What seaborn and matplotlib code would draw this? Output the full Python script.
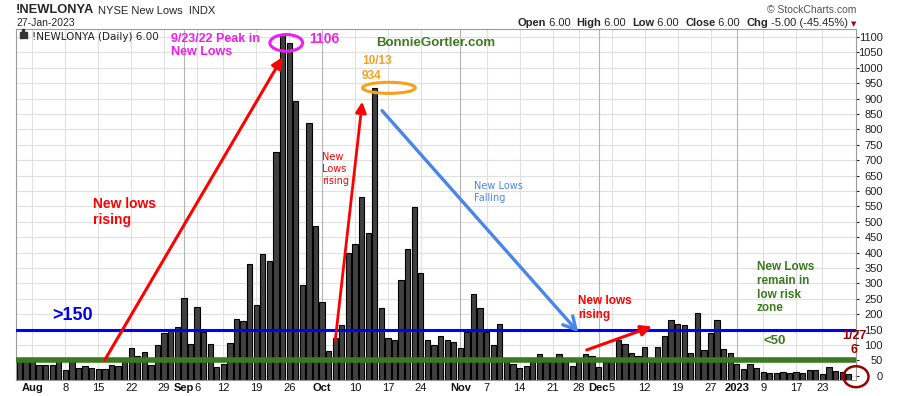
"""NYSE new lows (!NEWLONYA) daily bars, Jul 2022 - Jan 2023, with annotations."""

import matplotlib

matplotlib.use("Agg")
import matplotlib.pyplot as plt
import pandas as pd
import seaborn as sns
from matplotlib.patches import Ellipse, Rectangle

W, H = 900, 396

START = "2022-07-28"
END = "2023-01-27"
HOLIDAYS = ["2022-09-05", "2022-11-24", "2022-12-26", "2023-01-02", "2023-01-16"]

# daily NYSE new lows
NEW_LOWS = [
    55, 53,
    56, 35, 35, 35, 52, 18, 50, 24, 31, 24, 22, 22, 34, 32, 54, 89, 64, 76, 34, 100, 138, 151, 160,
    252, 102, 223, 141, 103, 30, 38, 106, 184, 177, 362, 229, 395, 372, 726, 1106, 1080, 892, 294, 820, 486,
    239, 81, 122, 165, 399, 427, 581, 463, 934, 219, 122, 115, 311, 411, 547, 333, 115, 100, 128, 115, 109,
    89, 143, 265, 219, 143, 100, 167, 48, 37, 24, 31, 52, 70, 44, 52, 70, 50, 31, 52, 70, 66,
    28, 44, 52, 116, 102, 74, 66, 93, 54, 93, 129, 181, 168, 164, 74, 203, 83, 138, 181, 86, 73,
    40, 22, 37, 27, 12, 9, 9, 14, 9, 11, 9, 18, 18, 7, 28, 16, 14, 6,
]

TICK_DATES = [
    "2022-08-01", "2022-08-08", "2022-08-15", "2022-08-22", "2022-08-29",
    "2022-09-01", "2022-09-06", "2022-09-12", "2022-09-19", "2022-09-26",
    "2022-10-03", "2022-10-10", "2022-10-17", "2022-10-24",
    "2022-11-01", "2022-11-07", "2022-11-14", "2022-11-21", "2022-11-28",
    "2022-12-01", "2022-12-05", "2022-12-12", "2022-12-19", "2022-12-27",
    "2023-01-03", "2023-01-09", "2023-01-17", "2023-01-23",
]
TICK_LABELS = [
    "Aug", "8", "15", "22", "29",
    "Sep", "6", "12", "19", "26",
    "Oct", "10", "17", "24",
    "Nov", "7", "14", "21", "28",
    "Dec", "5", "12", "19", "27",
    "2023", "9", "17", "23",
]
MONTH_LABELS = ["Aug", "Sep", "Oct", "Nov", "Dec", "2023"]

Y_MIN, Y_MAX = -13.5, 1126
HIGH_ZONE, LOW_ZONE = 150, 50

RED = "#ff0000"
MAGENTA = "#ee1fee"
ORANGE = "#f5a11c"
GREEN = "#3b7a1e"
BLUE = "#0000ff"
LIGHT_BLUE = "#4a86e8"
DARK_RED = "#990000"


def ftext(fig, x, y, s, **kw):
    """Place text by pixel position (x left, y = top of caps) on the figure."""
    kw.setdefault("va", "top")
    return fig.text(x / W, 1 - y / H, s, **kw)


def right_runs(fig, x_right, y, runs, size=8):
    renderer = fig.canvas.get_renderer()
    x = x_right
    for s, weight in reversed(runs):
        t = fig.text(x / W, 1 - y / H, s, ha="right", va="top", fontsize=size, fontweight=weight)
        x -= t.get_window_extent(renderer).width


def main() -> None:
    sns.set_style("white")
    plt.rcParams["font.family"] = ["Liberation Sans", "DejaVu Sans"]

    days = pd.bdate_range(START, END)
    days = days[~days.isin(pd.to_datetime(HOLIDAYS))]
    day_keys = list(days.strftime("%Y-%m-%d"))
    df = pd.DataFrame({"day": day_keys, "new_lows": NEW_LOWS})

    fig = plt.figure(figsize=(W / 100, H / 100), dpi=100)
    ax = fig.add_axes([16 / W, 1 - 380 / H, 840 / W, 351 / H])

    sns.barplot(data=df, x="day", y="new_lows", color="#404040", saturation=1,
                edgecolor="black", linewidth=0.8, width=0.8, ax=ax, zorder=2)
    # stockcharts draws bars from the floor of the panel
    for bar in ax.patches:
        top = bar.get_y() + bar.get_height()
        bar.set_y(Y_MIN)
        bar.set_height(top - Y_MIN)

    ax.set_xlim(-0.5, len(day_keys) + 0.1)
    ax.set_ylim(Y_MIN, Y_MAX)

    # grid
    ax.set_yticks(range(0, 1101, 50))
    for v in range(0, 1101, 50):
        ax.axhline(v, color="#e0e0e0", lw=0.8, zorder=0)
    tick_pos = [day_keys.index(d) for d in TICK_DATES]
    for pos, lab in zip(tick_pos, TICK_LABELS):
        month = lab in MONTH_LABELS and lab != "Aug"
        ax.axvline(pos, color="#b4b4b4" if month else "#e0e0e0", lw=0.8, zorder=0)

    ax.set_xticks(tick_pos)
    ax.set_xticklabels(TICK_LABELS)
    for t in ax.get_xticklabels():
        if t.get_text() in MONTH_LABELS:
            t.set_fontweight("bold")
    ax.tick_params(axis="x", length=0, pad=2.5, labelsize=8, colors="#111111")
    ax.yaxis.tick_right()
    ax.tick_params(axis="y", length=2, width=0.8, pad=17.5, labelsize=8, colors="#222222")
    for t in ax.get_yticklabels():
        t.set_horizontalalignment("right")
    ax.set_xlabel("")
    ax.set_ylabel("")
    for sp in ax.spines.values():
        sp.set_visible(True)
        sp.set_color("#9a9a9a")
        sp.set_linewidth(0.8)

    # zone lines
    ax.axhline(HIGH_ZONE, color=BLUE, lw=2.2, zorder=3)
    ax.axhline(LOW_ZONE, color=GREEN, lw=4, zorder=3)

    # arrows
    head = dict(shrinkA=0, shrinkB=0, mutation_scale=16)
    ax.annotate("", xy=(40, 1035), xytext=(13.0, 52),
                arrowprops=dict(arrowstyle="-|>", color=RED, lw=2.2, **head), zorder=4)
    ax.annotate("", xy=(52.1, 890), xytext=(48.0, 116),
                arrowprops=dict(arrowstyle="-|>", color=RED, lw=2.0, **head), zorder=4)
    ax.annotate("", xy=(84.9, 142), xytext=(55.1, 861),
                arrowprops=dict(arrowstyle="->,head_length=0.55,head_width=0.3", color=LIGHT_BLUE,
                                lw=2.4, shrinkA=0, shrinkB=0, mutation_scale=16), zorder=4)
    ax.annotate("", xy=(96.1, 160), xytext=(86.2, 84),
                arrowprops=dict(arrowstyle="-|>", color=RED, lw=2.2, **head), zorder=4)

    # ellipses
    ax.add_patch(Ellipse((40.56, 1081), 4.97, 54, fill=False, ec=MAGENTA, lw=2.2, zorder=5))
    ax.add_patch(Ellipse((56.15, 935), 8.0, 36, fill=False, ec=ORANGE, lw=2.2, zorder=5))
    ax.add_patch(Ellipse((127.1, -2.8), 3.8, 68, fill=False, ec=DARK_RED, lw=1.8, zorder=5,
                         clip_on=False))

    # annotation texts
    ftext(fig, 171, 32.5, "9/23/22 Peak in\nNew Lows", color=MAGENTA, fontsize=9, fontweight="bold")
    ftext(fig, 309.5, 31.7, "1106", color=MAGENTA, fontsize=10, fontweight="bold")
    ftext(fig, 376, 36.7, "BonnieGortler.com", color=GREEN, fontsize=9.5, fontweight="bold")
    ftext(fig, 362, 55, "10/13\n934", color=ORANGE, fontsize=8.5, fontweight="bold", linespacing=1.3)
    ftext(fig, 322.3, 152.3, "New\nLows\nrising", color=RED, fontsize=7, family="DejaVu Sans")
    ftext(fig, 474.3, 181.3, "New Lows\nFalling", color=LIGHT_BLUE, fontsize=7, family="DejaVu Sans")
    ftext(fig, 92.7, 196.5, "New lows\nrising", color=RED, fontsize=10, fontweight="bold")
    ftext(fig, 52.7, 307, ">150", color="#0000ee", fontsize=13, fontweight="bold")
    ftext(fig, 578.5, 295, "New lows\nrising", color=RED, fontsize=8.5, fontweight="bold")
    ftext(fig, 756.7, 261, "New Lows\nremain in\nlow risk\nzone", color=GREEN, fontsize=8.5,
          fontweight="bold")
    ftext(fig, 763.3, 335.5, "<50", color=GREEN, fontsize=9.5, fontweight="bold")
    ftext(fig, 854, 330, "1/27\n6", color=DARK_RED, fontsize=9, fontweight="bold", ha="center")

    # legend line inside the panel
    for x0, h in [(19.5, 5), (22.2, 8), (24.9, 6)]:
        fig.patches.append(Rectangle((x0 / W, 1 - 37.5 / H), 2.0 / W, h / H,
                                     transform=fig.transFigure, color="#333333"))
    ftext(fig, 32, 31.5, "!NEWLONYA (Daily) 6.00", fontsize=7.5, family="DejaVu Sans", color="#222222")

    # header
    ftext(fig, 16, 4, "!NEWLONYA", fontsize=9.3, fontweight="bold")
    ftext(fig, 98, 6.5, "NYSE New Lows  INDX", fontsize=8)
    ftext(fig, 16, 18.5, "27-Jan-2023", fontsize=7.5)
    ftext(fig, 856, 5, "\u00a9 StockCharts.com", fontsize=7.5, color="#555555", ha="right")
    right_runs(fig, 848, 18.3, [
        ("Open", "bold"), (" 6.00  ", "normal"),
        ("High", "bold"), (" 6.00  ", "normal"),
        ("Low", "bold"), (" 6.00  ", "normal"),
        ("Close", "bold"), (" 6.00  ", "normal"),
        ("Chg", "bold"), (" -5.00 (-45.45%)", "normal"),
    ])
    ftext(fig, 853.5, 21, "\u25bc", fontsize=5, color="#8b1030", family="DejaVu Sans", ha="center")

    fig.savefig("out.png", dpi=100)
    plt.close(fig)


if __name__ == "__main__":
    main()
